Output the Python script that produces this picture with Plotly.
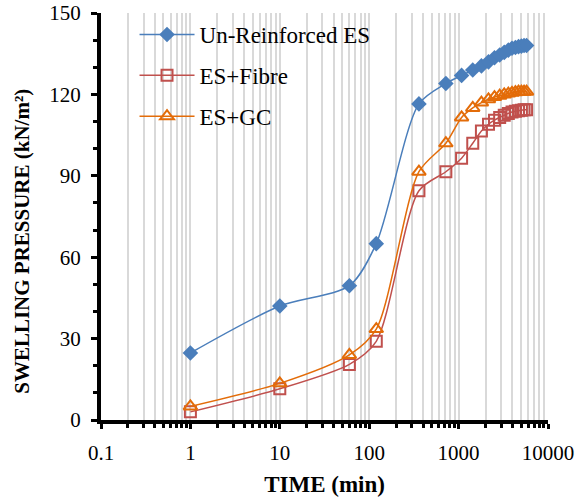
import plotly.graph_objects as go

time_min = [1, 10, 60, 120, 360, 720, 1080, 1440, 1800, 2160, 2520, 2880, 3240, 3600, 3960, 4320, 4680, 5040, 5400, 5760]
unreinforced = [24.7, 42.0, 49.5, 65.0, 116.5, 124.0, 127.0, 129.0, 130.5, 132.0, 133.5, 134.5, 135.5, 136.3, 137.0, 137.3, 137.6, 137.8, 138.0, 138.0]
es_fibre = [3.0, 11.5, 20.5, 29.0, 84.5, 91.5, 96.5, 102.0, 106.5, 109.0, 110.5, 111.5, 112.3, 113.0, 113.5, 113.8, 114.0, 114.2, 114.3, 114.3]
es_gc = [5.0, 13.5, 24.0, 33.5, 91.5, 102.0, 111.5, 115.0, 117.0, 118.2, 119.0, 119.5, 120.0, 120.3, 120.6, 120.8, 121.0, 121.0, 121.0, 121.0]

x_tickvals = [0.1, 1, 10, 100, 1000, 10000]
x_ticktext = ["0.1", "1", "10", "100", "1000", "10000"]
y_tickvals = [0, 30, 60, 90, 120, 150]

series = [
    ("Un-Reinforced ES", unreinforced, "#4a7ebb", "diamond", 12),
    ("ES+Fibre", es_fibre, "#c0504d", "square-open", 11),
    ("ES+GC", es_gc, "#e36c09", "triangle-up-open", 12),
]

FONT = "Liberation Serif"
fig = go.Figure()
for i, (name, vals, col, sym, sz) in enumerate(series):
    fig.add_trace(go.Scatter(
        x=time_min, y=vals, name=name, mode="lines+markers",
        line=dict(color=col, width=1.5, shape="spline", smoothing=0.8),
        marker=dict(symbol=sym, size=sz, color=col, line=dict(color=col, width=2 if "open" in sym else 0)),
        legendgroup=f"g{i}",
    ))

fig.update_layout(
    width=584, height=501,
    margin=dict(l=101, r=36, t=13, b=81, autoexpand=False),
    paper_bgcolor="white", plot_bgcolor="white",
    font=dict(family=FONT, size=21, color="black"),
    showlegend=True,
    legend=dict(x=0.075, y=1.0, xanchor="left", yanchor="top",
                bgcolor="rgba(0,0,0,0)", font=dict(family=FONT, size=23),
                tracegroupgap=8, itemwidth=55),
    annotations=[dict(
        text="<b>SWELLING PRESSURE (kN/m²)</b>", textangle=-90,
        xref="paper", yref="paper", x=-0.177, y=0.44,
        xanchor="center", yanchor="middle", showarrow=False,
        font=dict(family=FONT, size=21, color="black"),
    )],
)
fig.update_xaxes(
    type="log", range=[-1, 4],
    tickvals=x_tickvals, ticktext=x_ticktext,
    showline=True, linecolor="black", linewidth=4,
    ticks="outside", ticklen=5, tickwidth=3, tickcolor="black",
    ticklabelstandoff=6,
    showgrid=True, gridcolor="#d9d9d9", gridwidth=2,
    minor=dict(dtick="D1", showgrid=True, gridcolor="#d9d9d9", gridwidth=2,
               ticks="outside", ticklen=4, tickwidth=3, tickcolor="black"),
    title=dict(text="<b>TIME (min)</b>", font=dict(family=FONT, size=23), standoff=13),
    tickfont=dict(family=FONT, size=21),
    zeroline=False, automargin=False,
)
fig.update_yaxes(
    range=[0, 150], tickvals=y_tickvals,
    showline=True, linecolor="black", linewidth=4,
    ticks="outside", ticklen=6, tickwidth=3, tickcolor="black",
    ticklabelstandoff=6,
    showgrid=False, zeroline=False,
    minor=dict(dtick=10, ticks="outside", ticklen=4, tickwidth=3, tickcolor="black", showgrid=False),
    tickfont=dict(family=FONT, size=21),
    automargin=False,
)
fig.write_html("out.html")
